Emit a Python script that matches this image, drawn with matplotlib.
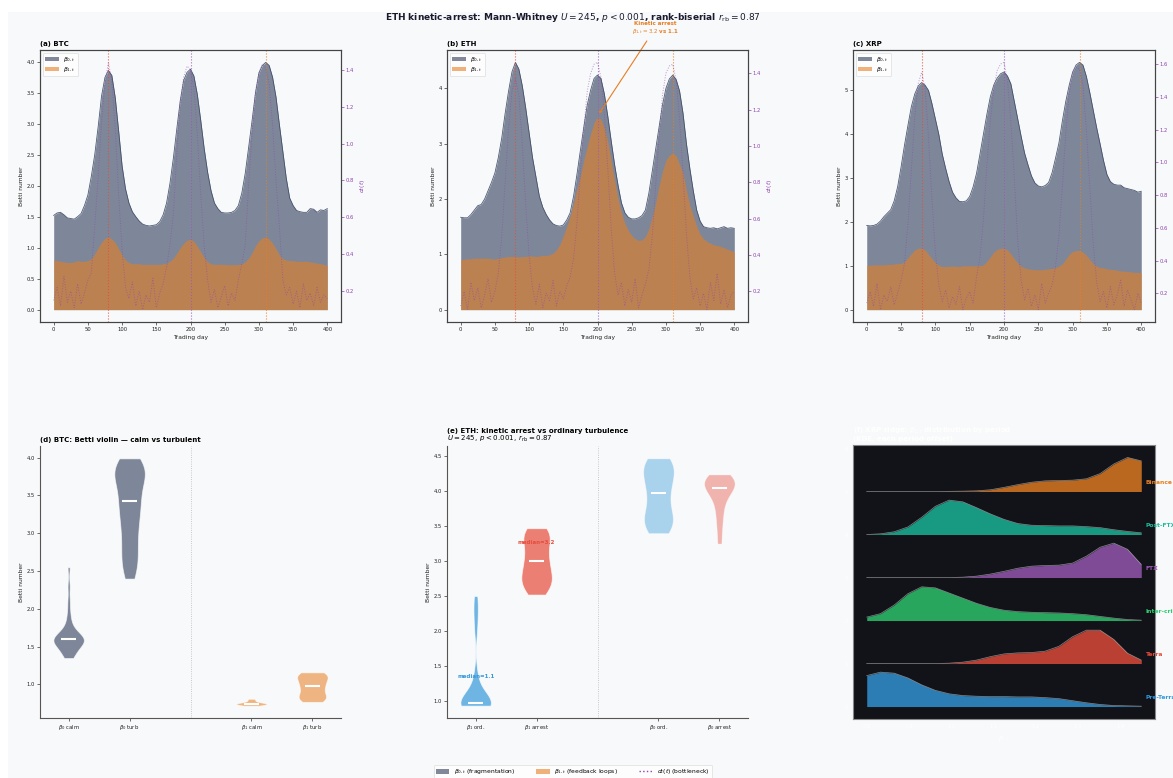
import numpy as np
import matplotlib
matplotlib.use("Agg")
import matplotlib.pyplot as plt
from matplotlib.patches import Patch, Rectangle
from matplotlib.lines import Line2D

# ---------------- data ----------------
days = np.arange(0, 401, 5)

btc_b0 = [1.52, 1.56, 1.57, 1.53, 1.48, 1.47, 1.46, 1.50, 1.55, 1.68, 1.85, 2.15, 2.50, 2.95, 3.45, 3.75, 3.86,
          3.78, 3.42, 2.88, 2.32, 1.95, 1.72, 1.58, 1.50, 1.43, 1.38, 1.36, 1.35, 1.36, 1.37, 1.42, 1.53, 1.72,
          2.04, 2.45, 2.92, 3.37, 3.70, 3.83, 3.88, 3.77, 3.47, 3.05, 2.60, 2.22, 1.92, 1.72, 1.63, 1.57, 1.56,
          1.56, 1.57, 1.60, 1.68, 1.88, 2.20, 2.62, 3.05, 3.50, 3.82, 3.94, 3.99, 3.94, 3.75, 3.43, 2.98, 2.55,
          2.12, 1.80, 1.68, 1.60, 1.58, 1.57, 1.57, 1.63, 1.62, 1.57, 1.61, 1.60, 1.63]
btc_b1 = [0.80, 0.79, 0.78, 0.77, 0.76, 0.76, 0.77, 0.79, 0.78, 0.78, 0.79, 0.82, 0.90, 1.00, 1.09, 1.15, 1.17,
          1.14, 1.08, 0.98, 0.88, 0.80, 0.76, 0.74, 0.74, 0.74, 0.73, 0.73, 0.73, 0.73, 0.73, 0.73, 0.74, 0.75,
          0.78, 0.83, 0.91, 1.00, 1.07, 1.12, 1.14, 1.10, 1.02, 0.93, 0.84, 0.77, 0.74, 0.73, 0.73, 0.73, 0.73,
          0.72, 0.73, 0.72, 0.73, 0.74, 0.77, 0.83, 0.92, 1.03, 1.11, 1.16, 1.17, 1.14, 1.07, 0.98, 0.88, 0.82,
          0.80, 0.79, 0.79, 0.78, 0.78, 0.78, 0.78, 0.77, 0.76, 0.75, 0.74, 0.73, 0.71]
btc_d = [0.15, 0.22, 0.12, 0.28, 0.14, 0.20, 0.11, 0.24, 0.13, 0.19, 0.26, 0.30, 0.55, 0.82, 1.12, 1.33, 1.44,
         1.34, 1.08, 0.72, 0.42, 0.22, 0.16, 0.25, 0.12, 0.20, 0.10, 0.18, 0.14, 0.27, 0.11, 0.19, 0.24, 0.33,
         0.45, 0.62, 0.95, 1.22, 1.36, 1.42, 1.40, 1.30, 1.05, 0.72, 0.45, 0.26, 0.14, 0.21, 0.11, 0.17, 0.23,
         0.12, 0.19, 0.15, 0.26, 0.35, 0.45, 0.78, 1.05, 1.28, 1.38, 1.43, 1.41, 1.32, 1.10, 0.80, 0.55, 0.26,
         0.18, 0.22, 0.13, 0.20, 0.11, 0.24, 0.15, 0.19, 0.12, 0.22, 0.14, 0.18, 0.16]

eth_b0 = [1.67, 1.66, 1.66, 1.72, 1.80, 1.88, 1.90, 2.00, 2.15, 2.30, 2.47, 2.75, 3.10, 3.55, 3.95, 4.30, 4.47,
          4.35, 4.05, 3.65, 3.20, 2.75, 2.40, 2.05, 1.85, 1.72, 1.62, 1.55, 1.52, 1.51, 1.53, 1.62, 1.75, 2.05,
          2.45, 2.88, 3.30, 3.70, 3.97, 4.18, 4.24, 4.18, 3.90, 3.50, 3.05, 2.62, 2.25, 1.93, 1.75, 1.67, 1.64,
          1.64, 1.66, 1.70, 1.80, 2.10, 2.50, 2.90, 3.30, 3.70, 4.00, 4.17, 4.24, 4.16, 3.95, 3.55, 3.00, 2.55,
          2.15, 1.80, 1.60, 1.50, 1.48, 1.47, 1.48, 1.46, 1.48, 1.50, 1.47, 1.48, 1.47]
eth_b1 = [0.90, 0.91, 0.92, 0.92, 0.93, 0.93, 0.93, 0.93, 0.93, 0.92, 0.91, 0.93, 0.94, 0.95, 0.96, 0.96, 0.96,
          0.95, 0.96, 0.96, 0.97, 0.97, 0.96, 0.97, 0.98, 0.98, 0.99, 1.02, 1.08, 1.18, 1.33, 1.50, 1.69, 1.92,
          2.18, 2.42, 2.70, 2.95, 3.18, 3.38, 3.48, 3.44, 3.28, 3.03, 2.68, 2.33, 2.00, 1.75, 1.56, 1.43, 1.34,
          1.28, 1.25, 1.26, 1.32, 1.46, 1.68, 1.93, 2.24, 2.50, 2.70, 2.79, 2.83, 2.78, 2.62, 2.47, 2.15, 1.88,
          1.69, 1.50, 1.36, 1.28, 1.23, 1.20, 1.17, 1.16, 1.14, 1.12, 1.09, 1.07, 1.04]
eth_d = [0.12, 0.20, 0.10, 0.25, 0.15, 0.22, 0.11, 0.18, 0.27, 0.14, 0.20, 0.30, 0.50, 0.80, 1.10, 1.30, 1.37,
         1.28, 1.02, 0.68, 0.40, 0.22, 0.13, 0.24, 0.11, 0.19, 0.15, 0.26, 0.12, 0.20, 0.16, 0.23, 0.28, 0.38,
         0.58, 0.85, 1.10, 1.30, 1.40, 1.45, 1.46, 1.38, 1.18, 0.88, 0.55, 0.30, 0.18, 0.25, 0.12, 0.21, 0.14,
         0.27, 0.11, 0.18, 0.24, 0.32, 0.50, 0.78, 1.05, 1.28, 1.40, 1.44, 1.45, 1.36, 1.15, 0.85, 0.52, 0.28,
         0.16, 0.22, 0.12, 0.19, 0.10, 0.25, 0.15, 0.30, 0.13, 0.21, 0.11, 0.18, 0.20]

xrp_b0 = [1.92, 1.91, 1.92, 1.95, 2.02, 2.12, 2.20, 2.28, 2.48, 2.80, 3.25, 3.75, 4.20, 4.63, 4.92, 5.10, 5.18,
          5.12, 5.00, 4.70, 4.35, 4.00, 3.55, 3.22, 2.92, 2.68, 2.55, 2.47, 2.46, 2.48, 2.58, 2.80, 3.11, 3.55,
          4.00, 4.45, 4.85, 5.12, 5.28, 5.38, 5.42, 5.33, 5.15, 4.75, 4.35, 3.95, 3.57, 3.30, 3.05, 2.89, 2.82,
          2.80, 2.83, 2.90, 3.12, 3.45, 3.80, 4.30, 4.75, 5.12, 5.42, 5.58, 5.64, 5.58, 5.32, 4.95, 4.55, 4.15,
          3.78, 3.40, 3.08, 2.92, 2.86, 2.84, 2.84, 2.78, 2.76, 2.74, 2.72, 2.68, 2.70]
xrp_b1 = [1.01, 1.01, 1.02, 1.02, 1.02, 1.02, 1.03, 1.03, 1.04, 1.05, 1.05, 1.09, 1.18, 1.28, 1.36, 1.40, 1.40,
          1.36, 1.26, 1.16, 1.07, 1.01, 0.98, 0.98, 0.99, 0.99, 0.99, 0.98, 1.00, 1.00, 1.00, 1.00, 1.00, 1.00,
          1.02, 1.10, 1.20, 1.31, 1.37, 1.40, 1.40, 1.36, 1.27, 1.16, 1.06, 0.99, 0.95, 0.93, 0.92, 0.91, 0.91,
          0.91, 0.92, 0.93, 0.94, 0.96, 0.99, 1.05, 1.15, 1.26, 1.32, 1.35, 1.35, 1.31, 1.24, 1.14, 1.05, 0.99,
          0.96, 0.95, 0.93, 0.92, 0.91, 0.90, 0.88, 0.88, 0.87, 0.86, 0.85, 0.85, 0.84]
xrp_d = [0.14, 0.21, 0.12, 0.26, 0.10, 0.19, 0.15, 0.24, 0.13, 0.20, 0.28, 0.38, 0.62, 0.95, 1.28, 1.48, 1.55,
         1.45, 1.15, 0.78, 0.45, 0.25, 0.15, 0.22, 0.11, 0.18, 0.13, 0.24, 0.10, 0.17, 0.21, 0.14, 0.30, 0.42,
         0.65, 0.98, 1.25, 1.45, 1.56, 1.60, 1.61, 1.50, 1.25, 0.90, 0.52, 0.28, 0.16, 0.23, 0.12, 0.19, 0.10,
         0.26, 0.14, 0.20, 0.25, 0.36, 0.55, 0.85, 1.18, 1.42, 1.54, 1.58, 1.57, 1.47, 1.20, 0.85, 0.50, 0.27,
         0.15, 0.21, 0.11, 0.24, 0.13, 0.19, 0.28, 0.12, 0.22, 0.16, 0.10, 0.20, 0.14]

event_days = [80, 200, 310]

# violin samples (panel d: BTC calm vs turbulent)
btc_b0_calm = [1.35, 1.37, 1.40, 1.43, 1.46, 1.48, 1.50, 1.52, 1.53, 1.55, 1.56, 1.57, 1.58, 1.59, 1.59,
               1.60, 1.61, 1.62, 1.63, 1.64, 1.66, 1.68, 1.70, 1.73, 1.78, 1.85, 1.95, 2.10, 2.30, 2.55]
btc_b0_turb = [2.40, 2.50, 2.55, 2.65, 2.70, 2.80, 2.85, 2.95, 3.05, 3.10, 3.15, 3.25, 3.30, 3.35, 3.42,
               3.45, 3.50, 3.58, 3.65, 3.70, 3.74, 3.78, 3.80, 3.83, 3.86, 3.88, 3.92, 3.96, 3.99]
btc_b1_calm = [0.72, 0.73, 0.73, 0.74, 0.74, 0.745, 0.75, 0.75, 0.76, 0.77, 0.79, 0.81]
btc_b1_turb = [0.77, 0.79, 0.81, 0.83, 0.85, 0.88, 0.92, 0.96, 0.98, 1.00, 1.04, 1.07, 1.09, 1.11, 1.13,
               1.15, 1.16]
# violin samples (panel e: ETH ordinary vs arrest)
eth_b1_ord = [0.93, 0.93, 0.93, 0.94, 0.94, 0.94, 0.95, 0.95, 0.95, 0.96, 0.96, 0.97, 0.98, 1.00, 1.03,
              1.08, 1.15, 1.25, 1.40, 2.00, 2.20, 2.35, 2.50]
eth_b1_arrest = [2.52, 2.58, 2.63, 2.68, 2.72, 2.76, 2.80, 2.85, 2.92, 3.00, 3.02, 3.08, 3.18, 3.25, 3.30,
                 3.35, 3.40, 3.44, 3.47]
eth_b0_ord = [3.40, 3.45, 3.50, 3.55, 3.60, 3.65, 3.70, 3.80, 3.90, 3.97, 4.05, 4.12, 4.18, 4.25, 4.30,
              4.35, 4.40, 4.44, 4.47]
eth_b0_arrest = [3.25, 3.45, 3.60, 3.72, 3.82, 3.90, 3.96, 4.00, 4.03, 4.05, 4.08, 4.10, 4.13, 4.16, 4.18,
                 4.20, 4.22, 4.24]

# ridge panel (f): XRP beta1 density by period (normalised), bottom to top
ridge_x = np.linspace(0.80, 1.45, 21)
periods = ["Pre-Terra", "Terra", "Inter-crisis", "FTX", "Post-FTX", "Binance"]
dens_pre_terra = [0.90, 1.00, 0.97, 0.83, 0.63, 0.47, 0.37, 0.32, 0.30, 0.29, 0.29, 0.28, 0.28, 0.26, 0.23,
                  0.17, 0.11, 0.06, 0.03, 0.02, 0.01]
dens_terra = [0.0, 0.0, 0.0, 0.0, 0.0, 0.0, 0.01, 0.04, 0.10, 0.20, 0.28, 0.31, 0.32, 0.36, 0.50, 0.78, 0.97,
              0.97, 0.70, 0.30, 0.10]
dens_inter = [0.10, 0.20, 0.45, 0.78, 0.98, 0.95, 0.80, 0.65, 0.50, 0.38, 0.30, 0.26, 0.24, 0.23, 0.22, 0.20,
              0.17, 0.12, 0.07, 0.03, 0.01]
dens_ftx = [0.0, 0.0, 0.0, 0.0, 0.0, 0.0, 0.0, 0.01, 0.04, 0.10, 0.18, 0.27, 0.33, 0.35, 0.36, 0.42, 0.62, 0.88,
            1.00, 0.82, 0.38]
dens_post_ftx = [0.0, 0.02, 0.08, 0.22, 0.50, 0.82, 1.00, 0.95, 0.78, 0.60, 0.44, 0.32, 0.27, 0.26, 0.25, 0.25,
                 0.23, 0.20, 0.14, 0.09, 0.05]
dens_binance = [0.0, 0.0, 0.0, 0.0, 0.0, 0.0, 0.005, 0.01, 0.02, 0.05, 0.12, 0.20, 0.27, 0.31, 0.32, 0.33, 0.37,
                0.52, 0.80, 0.99, 0.89]

# ---------------- style ----------------
W, H = 1173, 778
BG = '#f8f9fa'
C_B0 = '#3d4a66'
C_B1 = '#e67e22'
C_D = '#8e44ad'
EV_COLORS = ['#e74c3c', '#9b59b6', '#e67e22']
TXT = '#222222'

plt.rcParams['font.family'] = ['DejaVu Sans']
plt.rcParams['mathtext.fontset'] = 'dejavusans'

fig = plt.figure(figsize=(W / 100, H / 100), dpi=100, facecolor='white')
fig.patches.append(Rectangle((8 / W, 0), 1, 1 - 12 / H, transform=fig.transFigure,
                             facecolor=BG, edgecolor='none', zorder=-10))


def fpos(l, t, r, b):
    return [l / W, 1 - b / H, (r - l) / W, (b - t) / H]


def style_ticks(ax, color=TXT):
    ax.tick_params(labelsize=3.8, length=2, width=0.5, pad=1.5, colors='#333333', labelcolor=color)


# ---------------- top panels ----------------
top = [("(a) BTC", btc_b0, btc_b1, btc_d, (40, 50, 341, 322)),
       ("(b) ETH", eth_b0, eth_b1, eth_d, (447, 50, 748, 322)),
       ("(c) XRP", xrp_b0, xrp_b1, xrp_d, (853, 50, 1155, 322))]
axes_top = []
for title, b0, b1, d, box in top:
    ax = fig.add_axes(fpos(*box))
    ax.set_facecolor(BG)
    ax.fill_between(days, 0, b0, color=C_B0, alpha=0.65, lw=0, label=r'$\beta_{0,t}$')
    ax.plot(days, b0, color=C_B0, lw=0.6, alpha=0.9)
    ax.fill_between(days, 0, b1, color=C_B1, alpha=0.6, lw=0, label=r'$\beta_{1,t}$')
    for ev, ec in zip(event_days, EV_COLORS):
        ax.axvline(ev, color=ec, ls=':', lw=0.8, alpha=0.85)
    ax.set_xticks(range(0, 401, 50))
    ax.set_xlabel('Trading day', fontsize=4.3, labelpad=2, color=TXT)
    ax.set_ylabel('Betti number', fontsize=4.3, labelpad=2, color=TXT)
    ax.set_title(title, loc='left', fontsize=5, fontweight='bold', pad=3)
    style_ticks(ax)
    for s in ax.spines.values():
        s.set_color('#444444')
        s.set_linewidth(0.8)
    leg = ax.legend(loc='upper left', fontsize=4.3, frameon=True, handlelength=2.2, borderpad=0.4,
                    labelspacing=0.3, fancybox=True)
    leg.get_frame().set_linewidth(0.4)
    ax2 = ax.twinx()
    ax2.plot(days, d, ls=':', color=C_D, lw=0.7, alpha=0.55)
    ax2.set_ylabel(r'$d_\ell(t)$', fontsize=4.3, color=C_D, labelpad=3)
    ax2.tick_params(labelsize=3.8, length=2, width=0.5, pad=1.5, colors=C_D, labelcolor=C_D)
    for s in ax2.spines.values():
        s.set_color('#444444')
        s.set_linewidth(0.8)
    axes_top.append(ax)

# annotation in (b)
axes_top[1].annotate('Kinetic arrest\n' + r'$\beta_{1,t}=3.2$ vs 1.1', xy=(200, 3.5), xytext=(284, 5.08),
                     textcoords='data', ha='center', va='center', fontsize=4, color='#e67e22',
                     fontweight='bold', annotation_clip=False,
                     arrowprops=dict(arrowstyle='->', color='#e67e22', lw=0.8))


# ---------------- violin panels ----------------
def violin(ax, data, pos, color, alpha, bw):
    parts = ax.violinplot([data], positions=[pos], widths=0.5, showextrema=False, bw_method=bw)
    for b in parts['bodies']:
        b.set_facecolor(color)
        b.set_edgecolor('white')
        b.set_alpha(alpha)
        b.set_linewidth(0.6)
    m = np.median(data)
    ax.hlines(m, pos - 0.12, pos + 0.12, color='white', lw=1.5, zorder=3)


def style_violin_ax(ax):
    ax.set_facecolor(BG)
    for k in ('top', 'right'):
        ax.spines[k].set_visible(False)
    for k in ('left', 'bottom'):
        ax.spines[k].set_color('#555555')
        ax.spines[k].set_linewidth(0.8)
    style_ticks(ax)
    ax.axvline(2, color='#aaaaaa', ls=':', lw=0.6, alpha=0.8)
    ax.set_xlim(-0.47, 4.47)
    ax.set_ylabel('Betti number', fontsize=4.3, labelpad=2, color=TXT)


axd = fig.add_axes(fpos(40, 446, 341, 718))
style_violin_ax(axd)
violin(axd, btc_b0_calm, 0, C_B0, 0.65, 0.3)
violin(axd, btc_b0_turb, 1, C_B0, 0.65, 0.35)
violin(axd, btc_b1_calm, 3, C_B1, 0.55, 0.5)
violin(axd, btc_b1_turb, 4, C_B1, 0.55, 0.45)
axd.set_xticks([0, 1, 3, 4])
axd.set_xticklabels([r'$\beta_0$ calm', r'$\beta_0$ turb', r'$\beta_1$ calm', r'$\beta_1$ turb'])
axd.set_title('(d) BTC: Betti violin — calm vs turbulent', loc='left', fontsize=5, fontweight='bold', pad=3)

axe = fig.add_axes(fpos(447, 446, 748, 718))
style_violin_ax(axe)
violin(axe, eth_b1_ord, 0, '#3498db', 0.7, 0.3)
violin(axe, eth_b1_arrest, 1, '#e74c3c', 0.7, 0.45)
violin(axe, eth_b0_ord, 3, '#3498db', 0.4, 0.45)
violin(axe, eth_b0_arrest, 4, '#e74c3c', 0.4, 0.4)
axe.set_xticks([0, 1, 3, 4])
axe.set_xticklabels([r'$\beta_1$ ord.', r'$\beta_1$ arrest', r'$\beta_0$ ord.', r'$\beta_0$ arrest'])
axe.text(0, 1.35, 'median=1.1', ha='center', va='center', fontsize=4, color='#3498db', fontweight='bold')
axe.text(1, 3.26, 'median=3.2', ha='center', va='center', fontsize=4, color='#e74c3c', fontweight='bold')
axe.text(0, 1.045, '(e) ETH: kinetic arrest vs ordinary turbulence', transform=axe.transAxes,
         fontsize=5, fontweight='bold', ha='left', va='bottom')
axe.text(0, 1.008, r'$U=245,\ p<0.001,\ r_{\rm rb}=0.87$', transform=axe.transAxes,
         fontsize=5, ha='left', va='bottom')

# ---------------- ridge panel ----------------
axf = fig.add_axes(fpos(853, 445, 1155, 719))
axf.set_facecolor('#111318')
ridge_dens = [dens_pre_terra, dens_terra, dens_inter, dens_ftx, dens_post_ftx, dens_binance]
ridge_cols = ['#3498db', '#e74c3c', '#2ecc71', '#9b59b6', '#1abc9c', '#e67e22']
for i, (name, dens, col) in enumerate(zip(periods, ridge_dens, ridge_cols)):
    y = i + 0.8 * np.asarray(dens)
    axf.fill_between(ridge_x, i, y, color=col, alpha=0.8, lw=0)
    axf.plot(ridge_x, y, color='white', lw=0.5, alpha=0.5)
    axf.text(ridge_x[-1] + 0.01, i + 0.22, name, color=col, fontsize=4.3, fontweight='bold',
             va='center', ha='left', clip_on=False)
for s in axf.spines.values():
    s.set_color('#888888')
    s.set_linewidth(0.8)
axf.tick_params(labelsize=3.8, length=0, colors='white', labelcolor='white')
axf.set_xlabel(r'$\beta_{1,t}$', fontsize=4.3, color='white')
axf.set_title('(f) XRP ridge: ' + r'$\beta_{1,t}$' + ' distribution by period\n(KDE, each period offset)',
              loc='left', fontsize=5, fontweight='bold', color='white', pad=3)

# ---------------- titles / legend ----------------
fig.text(573 / W, 1 - 17 / H,
         r'ETH kinetic-arrest: Mann-Whitney $U=245$, $p<0.001$, rank-biserial $r_{\rm rb}=0.87$',
         ha='center', va='center', fontsize=6.5, fontweight='bold', color='#1a1a2e')

handles = [Patch(facecolor=C_B0, alpha=0.65, edgecolor='none'),
           Patch(facecolor=C_B1, alpha=0.6, edgecolor='none'),
           Line2D([0], [0], color=C_D, ls=':', lw=1)]
labels = [r'$\beta_{0,t}$ (fragmentation)', r'$\beta_{1,t}$ (feedback loops)', r'$d_\ell(t)$ (bottleneck)']
lg = fig.legend(handles, labels, loc='center', bbox_to_anchor=(573 / W, 1 - 772 / H), ncol=3, fontsize=4.3,
                frameon=True, handlelength=2.2, columnspacing=3.5, borderpad=0.4)
lg.get_frame().set_linewidth(0.4)

fig.savefig('out.png', dpi=100, facecolor=fig.get_facecolor())
